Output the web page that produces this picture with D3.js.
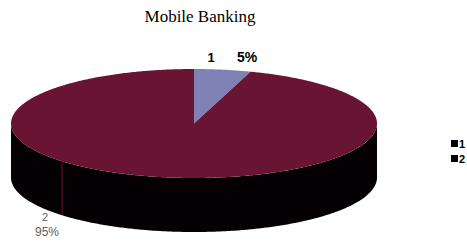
<!DOCTYPE html>
<html lang="en">
<head>
  <meta charset="UTF-8">
  <title>Mobile Banking</title>
  <script src="https://d3js.org/d3.v7.min.js"></script>
  <style>
    body { margin: 0; background: #fff; }
    svg { display: block; }
    .title { font-family: "Liberation Serif", "Times New Roman", serif; font-size: 17px; }
    .lbl { font-family: "Liberation Sans", Arial, sans-serif; }
  </style>
</head>
<body>
  <svg width="467" height="244"></svg>
  <script>
    // data
    const categories = ["1", "2"];
    const shares = [5, 95];
    const pctLabels = ["5%", "95%"];
    const topColors = ["#7e81b3", "#6a1434"];
    const sideColors = ["#3a3c5c", "#050003"];

    const width = 467, height = 244;
    const svg = d3.select("svg");

    // ellipse geometry of the tilted pie
    const cx = 194, cy = 123.5, rx = 183, ry = 54.5, depth = 54;

    const pie = d3.pie().sort(null).value(d => d);
    const arcs = pie(shares);

    function pt(t, dy) {
      return [cx + rx * Math.sin(t), cy - ry * Math.cos(t) + (dy || 0)];
    }
    function rim(a0, a1, dy) {
      const n = Math.max(2, Math.ceil((a1 - a0) / 0.01));
      return d3.range(n + 1).map(i => pt(a0 + (a1 - a0) * i / n, dy));
    }
    const line = d3.line();

    // side walls (front half only)
    const sides = svg.append("g");
    arcs.forEach((a, i) => {
      const s = Math.max(a.startAngle, Math.PI / 2);
      const e = Math.min(a.endAngle, Math.PI * 3 / 2);
      if (e <= s) return;
      const top = rim(s, e, 0);
      const bot = rim(s, e, depth).reverse();
      sides.append("path")
        .attr("d", line(top.concat(bot)) + "Z")
        .attr("fill", sideColors[i]);
    });

    // faint seam on the wall, as in the scan
    const seamT = Math.PI + 0.805;
    sides.append("line")
      .attr("x1", pt(seamT)[0]).attr("y1", pt(seamT)[1])
      .attr("x2", pt(seamT, depth)[0]).attr("y2", pt(seamT, depth)[1])
      .attr("stroke", "#8a1236").attr("stroke-width", 1).attr("opacity", 0.8);

    // top faces
    svg.append("g").selectAll("path")
      .data(arcs)
      .join("path")
      .attr("d", a => line([[cx, cy]].concat(rim(a.startAngle, a.endAngle, 0))) + "Z")
      .attr("fill", (a, i) => topColors[i]);

    // title
    svg.append("text")
      .attr("class", "title")
      .attr("x", 200).attr("y", 22)
      .attr("text-anchor", "middle")
      .text("Mobile Banking");

    // data labels
    svg.append("text").attr("class", "lbl")
      .attr("x", 211).attr("y", 62)
      .attr("text-anchor", "middle")
      .style("font-size", "13px").style("font-weight", "bold")
      .text(categories[0]);
    svg.append("text").attr("class", "lbl")
      .attr("x", 247).attr("y", 62)
      .attr("text-anchor", "middle")
      .style("font-size", "14px").style("font-weight", "bold")
      .text(pctLabels[0]);

    svg.append("text").attr("class", "lbl")
      .attr("x", 45).attr("y", 221)
      .attr("text-anchor", "middle")
      .style("font-size", "11px").attr("fill", "#5e5e5e")
      .text(categories[1]);
    svg.append("text").attr("class", "lbl")
      .attr("x", 47).attr("y", 236)
      .attr("text-anchor", "middle")
      .style("font-size", "12px").attr("fill", "#5e5e5e")
      .text(pctLabels[1]);

    // legend (cut off by the right edge)
    const legend = svg.append("g").attr("transform", "translate(451,140)");
    categories.forEach((c, i) => {
      legend.append("rect")
        .attr("x", 0).attr("y", i * 15)
        .attr("width", 7).attr("height", 7)
        .attr("fill", "#000");
      legend.append("text").attr("class", "lbl")
        .attr("x", 8).attr("y", i * 15 + 7.5)
        .style("font-size", "11px").style("font-weight", "bold")
        .text(c);
    });
  </script>
</body>
</html>
